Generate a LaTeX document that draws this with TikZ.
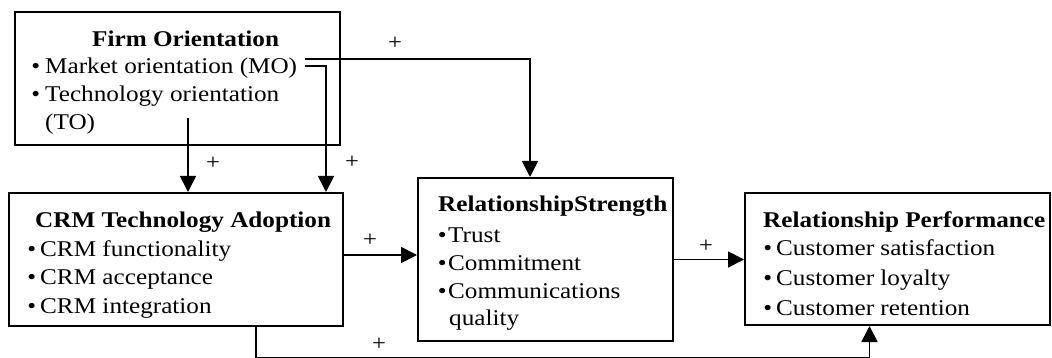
\documentclass[tikz,border=0pt]{standalone}
\usepackage{fontspec}
\setmainfont{Liberation Serif}[FakeStretch=1.12]
\usetikzlibrary{arrows.meta}
\tikzset{
  box/.style={draw, line width=2pt, rectangle, inner sep=0pt},
  txt/.style={anchor=base west, inner sep=0pt, font=\fontsize{22.5}{28}\selectfont},
  head/.style={txt, font=\fontsize{22.5}{28}\selectfont\bfseries},
  plus/.style={inner sep=0pt, font=\fontsize{22}{26}\selectfont},
  arr/.style={line width=1.8pt, -{Triangle[length=16pt,width=16pt]}},
}
\newcommand{\bul}[1][4pt]{\llap{\textbullet\kern#1}}
\begin{document}
\begin{tikzpicture}[x=1pt, y=-1pt]
\useasboundingbox (0,0) rectangle (1052,358);

% boxes
\node[box, minimum width=325pt, minimum height=133pt] (firm) at (177.5,78.5) {};
\node[box, minimum width=334pt, minimum height=133pt] (crm)  at (176,259.5) {};
\node[box, minimum width=255pt, minimum height=163pt] (rs)   at (545.5,259.5) {};
\node[box, minimum width=305pt, minimum height=132pt] (rp)   at (897.5,259) {};

% firm orientation
\node[head] (firmT) at (92,47) {Firm Orientation};
\node[txt] (mo) at (45,74) {\bul[5pt]Market orientation (MO)};
\node[txt] (to1) at (45,102) {\bul[5pt]Technology orientation};
\node[txt] (to2) at (45,130) {(TO)};

% CRM technology adoption
\node[head] (crmT) at (35,228) {CRM Technology Adoption};
\node[txt] (crm1) at (40,256) {\bul CRM functionality};
\node[txt] (crm2) at (40,284) {\bul CRM acceptance};
\node[txt] (crm3) at (40,313) {\bul CRM integration};

% relationship strength
\node[head] (rsT) at (438,212) {RelationshipStrength};
\node[txt] (rs1) at (448,243) {\bul[1.5pt]Trust};
\node[txt] (rs2) at (448,270) {\bul[1.5pt]Commitment};
\node[txt] (rs3) at (448,298) {\bul[1.5pt]Communications};
\node[txt] (rs4) at (449,325) {quality};

% relationship performance
\node[head] (rpT) at (763,227) {Relationship Performance};
\node[txt] (rp1) at (776,255) {\bul Customer satisfaction};
\node[txt] (rp2) at (776,285) {\bul Customer loyalty};
\node[txt] (rp3) at (776,315) {\bul Customer retention};

% connectors
\coordinate (moA) at (305,59);
\coordinate (moB) at (305,66);
\coordinate (toA) at (188,118);
\draw[arr] (moA) -| ([xshift=113pt]rs.north west);
\draw[arr] (moB) -| ([xshift=-18pt]crm.north east);
\draw[arr] (toA) -- (toA |- crm.north);
\path ([yshift=4.5pt]crm.east) coordinate (ca);
\draw[arr] (ca) -- (ca -| rs.west);
\draw[arr] (rs.east) -- (rs.east -| rp.west);
\draw[arr] ([xshift=80pt]crm.south) -- ++(0,31) -| ([xshift=-28pt]rp.south);

% signs
\node[plus] (p1) at (395,43) {+};
\node[plus] (p2) at (213,163) {+};
\node[plus] (p3) at (352,162) {+};
\node[plus] (p4) at (370,240) {+};
\node[plus] (p5) at (706,246) {+};
\node[plus] (p6) at (379,344) {+};
\end{tikzpicture}
\end{document}
